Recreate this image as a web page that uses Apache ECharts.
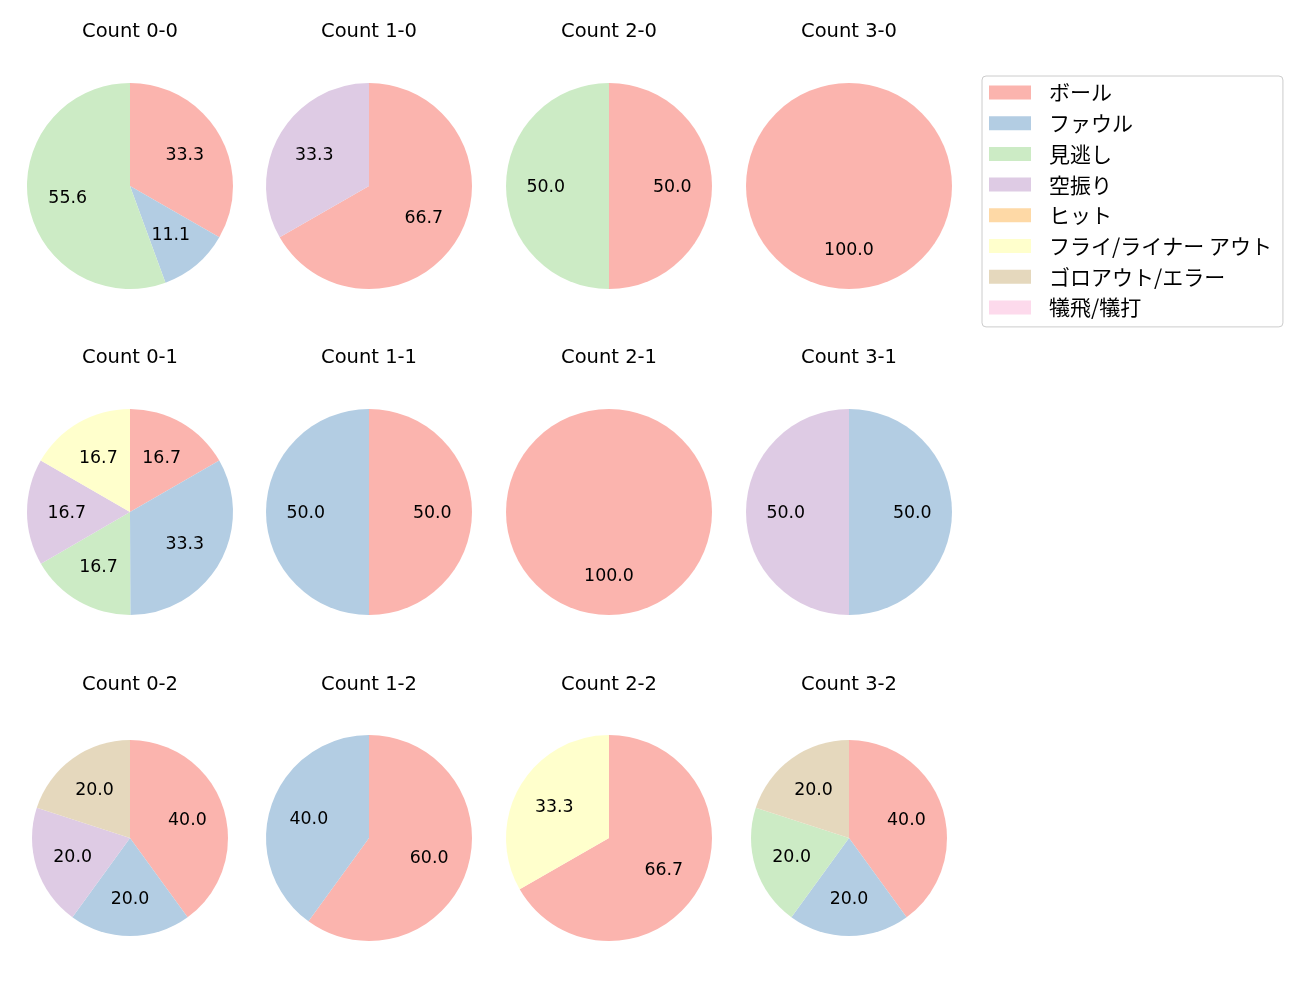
<!DOCTYPE html>
<html>
<head>
<meta charset="utf-8">
<script src="https://cdn.jsdelivr.net/npm/echarts@6/dist/echarts.min.js"></script>
<style>
  html, body { margin: 0; padding: 0; background: #fff; }
  #chart { width: 1300px; height: 1000px; }
</style>
</head>
<body>
<div id="chart"></div>
<script>
const categories = ['ボール', 'ファウル', '見逃し', '空振り', 'ヒット', 'フライ/ライナー アウト', 'ゴロアウト/エラー', '犠飛/犠打']
const colors = ['#fbb4ae', '#b3cde3', '#ccebc5', '#decbe4', '#fed9a6', '#ffffcc', '#e5d8bd', '#fddaec']

const titles = [
  'Count 0-0', 'Count 1-0', 'Count 2-0', 'Count 3-0',
  'Count 0-1', 'Count 1-1', 'Count 2-1', 'Count 3-1',
  'Count 0-2', 'Count 1-2', 'Count 2-2', 'Count 3-2'
]
// percentages per category, same order as categories
const shares = [
  [33.3, 11.1, 55.6, 0, 0, 0, 0, 0],
  [66.7, 0, 0, 33.3, 0, 0, 0, 0],
  [50.0, 0, 50.0, 0, 0, 0, 0, 0],
  [100.0, 0, 0, 0, 0, 0, 0, 0],
  [16.7, 33.3, 16.7, 16.7, 0, 16.7, 0, 0],
  [50.0, 50.0, 0, 0, 0, 0, 0, 0],
  [100.0, 0, 0, 0, 0, 0, 0, 0],
  [0, 50.0, 0, 50.0, 0, 0, 0, 0],
  [40.0, 20.0, 0, 20.0, 0, 0, 20.0, 0],
  [60.0, 40.0, 0, 0, 0, 0, 0, 0],
  [66.7, 0, 0, 0, 0, 33.3, 0, 0],
  [40.0, 20.0, 20.0, 0, 0, 0, 20.0, 0]
]

const colX = [130, 369, 609, 849]
const rowY = [186, 512, 838]
const radii = [103, 103, 103, 103, 103, 103, 103, 103, 98, 103, 103, 98]
const latin = '"DejaVu Sans", "Noto Sans CJK JP", sans-serif'
const cjk = '"Noto Sans CJK JP", "DejaVu Sans", sans-serif'

const chart = echarts.init(document.getElementById('chart'))

const pies = []
const labels = []
const titleList = []
shares.forEach((vals, i) => {
  const cx = colX[i % 4]
  const cy = rowY[Math.floor(i / 4)]
  const r = radii[i]
  titleList.push({
    text: titles[i],
    left: cx,
    top: Math.floor(i / 4) * 326.5 + 22,
    padding: 0,
    textAlign: 'center',
    textStyle: { fontFamily: latin, fontSize: 19.5, fontWeight: 'normal', color: '#000' }
  })
  pies.push({
    type: 'pie',
    center: [cx, cy],
    radius: [0, r],
    startAngle: 90,
    clockwise: true,
    silent: true,
    animation: false,
    label: { show: false },
    labelLine: { show: false },
    itemStyle: { borderWidth: 0 },
    data: vals.map((v, k) => ({ name: categories[k], value: v, itemStyle: { color: colors[k] } }))
  })
  labels.push({
    type: 'pie',
    center: [cx, cy + 1],
    radius: [r * 0.17, r],
    startAngle: 90,
    clockwise: true,
    silent: true,
    animation: false,
    itemStyle: { color: 'rgba(0,0,0,0)', borderWidth: 0 },
    label: {
      show: true,
      position: 'inside',
      fontFamily: latin,
      fontSize: 17.4,
      color: '#000',
      formatter: p => p.value.toFixed(1)
    },
    labelLine: { show: false },
    data: vals.map((v, k) => ({ name: categories[k], value: v })).filter(d => d.value > 0)
  })
})

chart.setOption({
  backgroundColor: '#fff',
  title: titleList,
  legend: {
    orient: 'vertical',
    left: 982,
    top: 76,
    padding: [6, 11, 9, 7],
    itemWidth: 42,
    itemHeight: 14,
    itemGap: 9.7,
    borderColor: '#cccccc',
    borderWidth: 1,
    borderRadius: 4,
    icon: 'rect',
    selectedMode: false,
    textStyle: { fontFamily: cjk, fontSize: 21, lineHeight: 21, color: '#000', padding: [0, 0, 0, 13] },
    data: categories.map((c, k) => ({ name: c, itemStyle: { color: colors[k] } }))
  },
  series: pies.concat(labels)
})
</script>
</body>
</html>
